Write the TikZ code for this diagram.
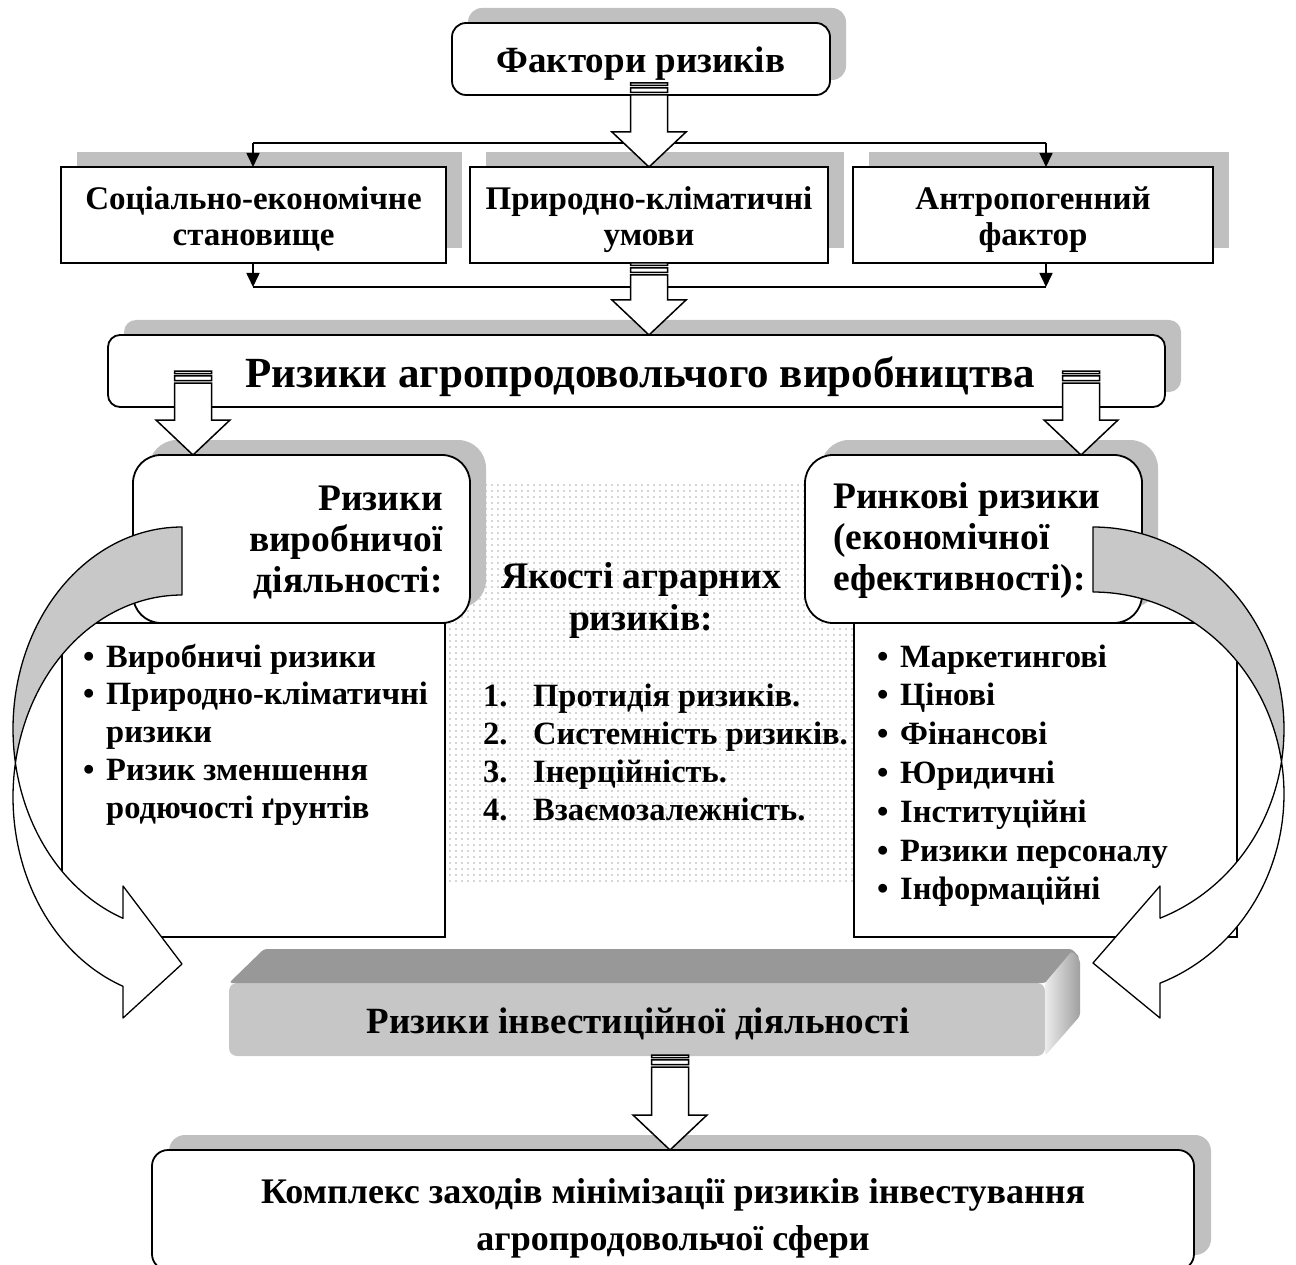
\documentclass[tikz,border=0pt]{standalone}
\usepackage{fontspec}
\setmainfont{Liberation Serif}
\usetikzlibrary{arrows.meta,patterns.meta,shadows,calc}
\definecolor{shad}{RGB}{192,192,192}
\definecolor{crescent}{RGB}{200,200,200}
\definecolor{topface}{RGB}{152,152,152}
\definecolor{frontface}{RGB}{198,198,198}
\definecolor{dotc}{RGB}{170,170,170}
\newcommand\fsz[2]{\fontsize{#1}{#2}\selectfont}
\newcommand\bul{\makebox[23pt][l]{•}}
\newcommand\ind{\hspace*{23pt}}
\newcommand\numb[1]{\makebox[50pt][l]{#1}}
% striped block arrow from start coordinate (#1) down to tip coordinate (#2)
\newcommand\striparrow[2]{%
  \draw[blk] let \p1=(#1), \p2=(#2) in
    (\x1-18.5pt,\y1) rectangle (\x1+18.5pt,\y1-2.5pt)
    (\x1-18.5pt,\y1-4.8pt) rectangle (\x1+18.5pt,\y1-9.5pt)
    (\x1-18.5pt,\y1-12pt) -- (\x1+18.5pt,\y1-12pt) -- (\x1+18.5pt,\y2+35pt)
    -- (\x1+37pt,\y2+35pt) -- (\x1,\y2) -- (\x1-37pt,\y2+35pt)
    -- (\x1-18.5pt,\y2+35pt) -- cycle;}
\begin{document}
\begin{tikzpicture}[x=1pt,y=-1pt,
  bx/.style={draw,line width=1.8pt,fill=white,inner sep=0pt,outer sep=0pt},
  sh/.style={drop shadow={shadow xshift=16pt,shadow yshift=15pt,fill=shad,opacity=1}},
  conn/.style={line width=1.6pt},
  tipd/.style={-{Triangle[length=14pt,width=13pt]}},
  blk/.style={line width=1.5pt,fill=white,line join=miter},
  curv/.style={line width=1.3pt,line join=round},
  tx/.style={inner sep=0pt,font=\bfseries}]
\useasboundingbox (0,0) rectangle (1296,1265);
\clip (0,0) rectangle (1296,1265);

% dotted background of the centre block
\fill[pattern={Dots[distance=6pt,radius=0.9pt]},pattern color=dotc] (445,480) rectangle (853,885);

% boxes
\node[bx,sh,rounded corners=14pt,minimum width=378pt,minimum height=72pt] (fact) at (641,59) {};
\node[bx,sh,minimum width=385pt,minimum height=96pt] (soc) at (253.5,215) {};
\node[bx,sh,minimum width=358pt,minimum height=96pt] (nat) at (649,215) {};
\node[bx,sh,minimum width=360pt,minimum height=96pt] (antr) at (1033,215) {};
\node[bx,sh,rounded corners=12pt,minimum width=1057pt,minimum height=72pt] (agro) at (636.5,371) {};

% connectors between factor boxes
\coordinate (tl) at (253,143);
\coordinate (tr) at (1046,143);
\coordinate (bl) at (253,287);
\coordinate (br) at (1046,287);
\draw[conn] (tl) -- (tr);
\draw[conn,tipd] (tl) -- (tl |- soc.north);
\draw[conn,tipd] (tr) -- (tr |- antr.north);
\draw[conn] (bl) -- (br);
\draw[conn,tipd] (bl |- soc.south) -- (bl);
\draw[conn,tipd] (br |- antr.south) -- (br);

% list boxes and rounded heading boxes
\node[bx,minimum width=383pt,minimum height=314pt] (llist) at (253.5,780) {};
\node[bx,minimum width=383pt,minimum height=314pt] (rlist) at (1045.5,780) {};
\node[bx,sh,rounded corners=28pt,minimum width=337pt,minimum height=168pt] (lrb) at (301.5,539) {};
\node[bx,sh,rounded corners=28pt,minimum width=337pt,minimum height=168pt] (rrb) at (973.5,539) {};

% left curved arrow
\draw[curv,fill=crescent]
  plot[domain=270:170.31,samples=60] ({182+169*cos(\x)},{729+202*sin(\x)})
  -- plot[domain=189.69:270,samples=50] ({182+169*cos(\x)},{797+202*sin(\x)}) -- cycle;
\draw[curv,fill=white]
  plot[domain=170.31:110.43,samples=50] ({182+169*cos(\x)},{729+202*sin(\x)})
  -- (123,886) -- (182,964) -- (123,1018)
  -- plot[domain=110.43:189.69,samples=60] ({182+169*cos(\x)},{797+202*sin(\x)}) -- cycle;
% right curved arrow
\draw[curv,fill=crescent]
  plot[domain=270:170.74,samples=60] ({1093-191*cos(\x)},{729+202*sin(\x)})
  -- plot[domain=189.26:270,samples=50] ({1093-191*cos(\x)},{794+202*sin(\x)}) -- cycle;
\draw[curv,fill=white]
  plot[domain=170.74:110.54,samples=50] ({1093-191*cos(\x)},{729+202*sin(\x)})
  -- (1160,886) -- (1093,963) -- (1160,1018)
  -- plot[domain=110.54:189.26,samples=60] ({1093-191*cos(\x)},{794+202*sin(\x)}) -- cycle;

% bevelled box
\fill[frontface,rounded corners=8pt] (229,983) rectangle (1045,1056);
\fill[topface,rounded corners=3pt] (229,983) -- (264,949) -- (1072,949) -- (1080,958) -- (1045,983) -- cycle;
\shade[left color=white!85!gray,right color=gray!75,rounded corners=3pt] (1045,983) -- (1072,951) -- (1080,960) -- (1080,1016) -- (1045,1056) -- cycle;
\node[inner sep=0pt,minimum width=816pt,minimum height=73pt] (inv) at (637,1019.5) {};

% bottom box (its lower edge runs off the page)
\node[bx,drop shadow={shadow xshift=17pt,shadow yshift=15pt,fill=shad,opacity=1},rounded corners=16pt,minimum width=1042pt,minimum height=120pt] (compl) at (673,1210) {};

% striped block arrows
\coordinate (a1) at (649,83);
\coordinate (a2) at (649,263);
\coordinate (a3) at (193,371);
\coordinate (a4) at (1081,371);
\coordinate (a5) at (670,1055);
\striparrow{a1}{a1 |- nat.north}
\striparrow{a2}{a2 |- agro.north}
\striparrow{a3}{a3 |- lrb.north}
\striparrow{a4}{a4 |- rrb.north}
\striparrow{a5}{a5 |- compl.north}

% texts (multi-line nodes are anchored at the baseline of their last line)
\node[tx,anchor=base,font=\bfseries\fsz{37}{40}] (tfact) at (641,73) {Фактори ризиків};
\node[tx,anchor=base,align=center,font=\bfseries\fsz{33}{36}] (tsoc) at (253.5,246) {Соціально-економічне\\становище};
\node[tx,anchor=base,align=center,font=\bfseries\fsz{33}{36}] (tnat) at (649,246) {Природно-кліматичні\\умови};
\node[tx,anchor=base,align=center,font=\bfseries\fsz{33}{36}] (tantr) at (1033,246) {Антропогенний\\фактор};
\node[tx,anchor=base,font=\bfseries\fsz{43}{48}] (tagro) at (640,387) {Ризики агропродовольчого виробництва};
\node[tx,anchor=base east,align=right,font=\bfseries\fsz{37.5}{41}] (tlrb) at (443,592) {Ризики\\виробничої\\діяльності:};
\node[tx,anchor=base west,align=left,font=\bfseries\fsz{37.5}{41}] (trrb) at (833,590) {Ринкові ризики\\(економічної\\ефективності):};
\node[tx,anchor=base,align=center,font=\bfseries\fsz{37.5}{42}] (tqual) at (641,630) {Якості аграрних\\ризиків:};
\node[tx,anchor=base west,align=left,font=\bfseries\fsz{32.5}{38}] (tqlist) at (483,820)
  {\numb{1.}Протидія ризиків.\\\numb{2.}Системність ризиків.\\\numb{3.}Інерційність.\\\numb{4.}Взаємозалежність.};
\node[tx,anchor=base west,align=left,font=\bfseries\fsz{32.5}{37.8}] (tllist) at (83,818.2)
  {\bul Виробничі ризики\\\bul Природно-кліматичні\\\ind ризики\\\bul Ризик зменшення\\\ind родючості ґрунтів};
\node[tx,anchor=base west,align=left,font=\bfseries\fsz{32.5}{38.8}] (trlist) at (877,899.8)
  {\bul Маркетингові\\\bul Цінові\\\bul Фінансові\\\bul Юридичні\\\bul Інституційні\\\bul Ризики персоналу\\\bul Інформаційні};
\node[tx,anchor=base,font=\bfseries\fsz{37}{42}] (tinv) at (638,1033) {Ризики інвестиційної діяльності};
\node[tx,anchor=base,align=center,font=\bfseries\fsz{36}{47}] (tcompl) at (673,1250) {Комплекс заходів мінімізації ризиків інвестування\\агропродовольчої сфери};
\end{tikzpicture}
\end{document}
